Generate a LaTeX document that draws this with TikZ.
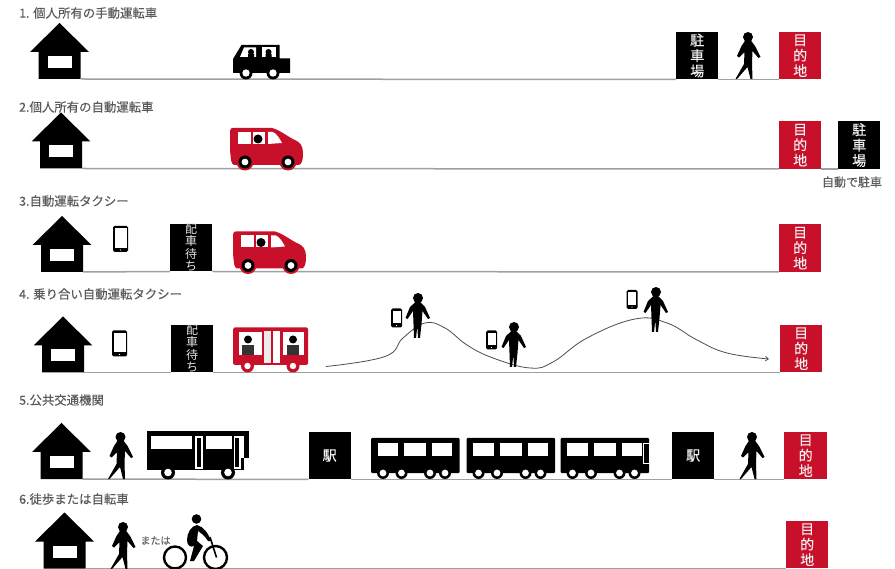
\documentclass[tikz,border=0pt]{standalone}
\usepackage{fontspec}
\usetikzlibrary{arrows.meta}
\setmainfont{Noto Sans CJK JP}
\newfontfamily\heavyfont[FakeBold=0.3]{Noto Sans CJK JP}
\definecolor{dred}{HTML}{C8102A}
\definecolor{road}{HTML}{A0A0A0}
\definecolor{ttl}{HTML}{5A5A5A}
\tikzset{
  x=1pt,y=-1pt,
  roadline/.style={draw=road,line width=1.5pt},
  title/.style={anchor=west,inner sep=0pt,text=ttl,font=\heavyfont\fontsize{12.4}{14}\selectfont},
  signbox/.style={anchor=south west,minimum width=42pt,minimum height=47.5pt,inner sep=0pt,align=center,text=white!88!gray,font=\heavyfont\fontsize{14}{15.4}\selectfont},
  dest/.style={signbox,fill=dred},
  blackbox/.style={signbox,fill=black},
  wait/.style={signbox,fill=black,font=\fontsize{12}{12.4}\selectfont,text=white!78!gray},
}
\newcommand{\xhouse}[3]{%
  \fill (#2,#3-56) -- (#2+29.5,#3-27) -- (#2+21,#3-27) -- (#2+21,#3) -- (#2-21,#3) -- (#2-21,#3-27) -- (#2-29.5,#3-27) -- cycle;
  \fill[white] (#2-12,#3-23) rectangle (#2+12,#3-11);
  \coordinate (#1) at (#2+21,#3);}
\newcommand{\xwalker}[2]{\begin{scope}[shift={(#1,#2)}]
  \fill (0,-42) circle[radius=5pt];
  \fill (-2.5,-39) -- (2.5,-39) -- (7,-33) -- (12.5,-22) -- (10.5,-21) -- (4.5,-28) -- (4,-16) -- (4.5,0) -- (2.5,0) -- (-0.5,-12) -- (-11,0) -- (-12.5,0) -- (-4,-15) -- (-3.5,-27) -- (-9,-21.5) -- (-11,-23) -- (-6.5,-33) -- cycle;
\end{scope}}
\newcommand{\xstander}[2]{\begin{scope}[shift={(#1,#2)}]
  \fill (1,-40) circle[radius=5pt];
  \fill (-1.5,-36) -- (3,-36) -- (8,-31) -- (13,-20) -- (11,-19) -- (5.5,-27) -- (4.5,-14) -- (3,0) -- (1,0) -- (0.5,-9) -- (0,-9) -- (-1,0) -- (-3,0) -- (-3.5,-14) -- (-4,-27) -- (-9.5,-19) -- (-11.5,-20) -- (-7,-31) -- cycle;
\end{scope}}
\newcommand{\xphone}[4]{%
  \fill[black,rounded corners=1.5pt] (#1-#3/2,#2-#4/2) rectangle (#1+#3/2,#2+#4/2);
  \fill[white] (#1-#3/2+1.5,#2-#4/2+2.2) rectangle (#1+#3/2-1.5,#2+#4/2-4);
  \fill[white] (#1,#2+#4/2-2) circle[radius=.7pt];}
\newcommand{\xvan}[2]{\begin{scope}[shift={(#1,#2)}]
  \fill[dred] (-77,-40) -- (-38,-40) .. controls (-30,-38) and (-22,-31) .. (-15,-28) .. controls (-10,-26) and (-7,-22) .. (-7,-15) .. controls (-7,-8) and (-8,-4) .. (-11,-3) -- (-76,-3) .. controls (-79,-4) and (-79,-8) .. (-80,-18) -- (-80,-32) .. controls (-80,-38) and (-80,-40) .. (-77,-40) -- cycle;
  \fill[white] (-72,-36) rectangle (-59,-24);
  \fill[white] (-57,-36) rectangle (-45,-24);
  \fill[white] (-42,-36) -- (-37,-36) .. controls (-33,-34) and (-30,-29) .. (-28,-25) -- (-42,-24) -- cycle;
  \fill (-52,-29) circle[radius=4.5pt];
  \foreach \wx in {-65,-22}{
    \fill[dred] (\wx,-6) circle[radius=8.5pt];
    \fill (\wx,-6) circle[radius=6.5pt];
    \fill[white] (\wx,-6) circle[radius=3.4pt];}
\end{scope}}
\begin{document}
\begin{tikzpicture}
\useasboundingbox (0,0) rectangle (895,569);
% titles
\node[title] (t1) at (19,13) {1. 個人所有の手動運転車};
\node[title] (t2) at (19,107) {2.個人所有の自動運転車};
\node[title] (t3) at (19,201) {3.自動運転タクシー};
\node[title] (t4) at (19,294) {4. 乗り合い自動運転タクシー};
\node[title] (t5) at (19,400) {5.公共交通機関};
\node[title] (t6) at (19,499) {6.徒歩または自転車};
% houses
\xhouse{h1}{59.5}{79}
\xhouse{h2}{61}{168.5}
\xhouse{h3}{62}{272}
\xhouse{h4}{63}{372.5}
\xhouse{h5}{61.5}{479}
\xhouse{h6}{64.5}{568.5}
% roads
\coordinate (end1) at (779,79.5);
% sign boxes
\node[dest] (d1) at (779,79.5) {目\\的\\地};
\node[blackbox] (p1) at (676,79.5) {駐\\車\\場};
\node[dest] (d2) at (779,169) {目\\的\\地};
\node[blackbox] (p2) at (838,169) {駐\\車\\場};
\node[dest] (d3) at (779,272) {目\\的\\地};
\node[dest] (d4) at (780,372.5) {目\\的\\地};
\node[dest,minimum width=43pt] (d5) at (784,479.5) {目\\的\\地};
\node[dest] (d6) at (786,568.5) {目\\的\\地};
\node[wait] (w3) at (170,271.5) {配\\車\\待\\ち};
\node[wait] (w4) at (171,372.5) {配\\車\\待\\ち};
\node[blackbox] (s1) at (308.5,479.5) {駅};
\node[blackbox] (s2) at (672,479.5) {駅};
\draw[roadline] (h1) -- (p1.south west);
\draw[roadline] (p1.south east) -- (d1.south west);
\draw[roadline] (h2) -- (d2.south west);
\draw[roadline] (d2.south east) -- (p2.south west);
\draw[roadline] (h3) -- (w3.south west);
\draw[roadline] (w3.south east) -- (d3.south west);
\draw[roadline] (h4) -- (w4.south west);
\draw[roadline] (w4.south east) -- (d4.south west);
\draw[roadline] (h5) -- (s1.south west);
\draw[roadline] (s1.south east) -- (s2.south west);
\draw[roadline] (s2.south east) -- (d5.south west);
\draw[roadline] (h6) -- (d6.south west);
\node[inner sep=0pt,text=ttl,font=\heavyfont\fontsize{12}{14}\selectfont] (auto) at (852,182) {自動で駐車};
% black car, row 1
\fill (241.5,45) -- (279.5,45) -- (279.5,58.5) -- (290,58.5) -- (290,73) -- (233,73) -- (233,59) -- cycle;
\fill[white] (244,47.5) -- (256,47.5) -- (256,57) -- (240,57) -- cycle;
\fill[white] (262,47.5) -- (276,47.5) -- (276,57) -- (262,57) -- cycle;
\fill (251,52) circle[radius=3pt] (268.5,52) circle[radius=3pt];
\fill (248,57) rectangle (254,54) (265.5,57) rectangle (271.5,54);
\foreach \wx in {246,273}{\fill (\wx,73) circle[radius=6.5pt];\fill[white] (\wx,73) circle[radius=3.7pt];}
% vans
\xvan{310}{168}
\xvan{313}{271.5}
% phones row 3, 4
\xphone{120.5}{239}{15}{26}
\xphone{119.5}{343.5}{15}{26}
% red bus
\fill[dred,rounded corners=1.5pt] (233,327.5) rectangle (308,365);
\fill[white] (238.5,332) rectangle (262,355);
\fill[white] (283,332) rectangle (304,355);
\fill[white!85!gray] (263.5,331.5) rectangle (270.5,363);
\fill[white] (273,331.5) rectangle (280,363);
\foreach \px in {248,293}{
  \fill (\px,339.5) circle[radius=4pt];
  \fill[black!80] (\px-6,345) rectangle (\px+6,355);}
\foreach \wx in {247.5,293}{\fill[dred] (\wx,366) circle[radius=6.5pt];\fill[white] (\wx,366) circle[radius=3.2pt];}
% curve
\coordinate (cs) at (326,366.5);
\coordinate (ce) at (769,359);
\draw[black!70,line width=.8pt,-{Straight Barb[length=3pt,width=4.5pt]}] plot[smooth,tension=.7] coordinates {(cs) (385,356.5) (403,338) (425,323) (445,328) (467,345) (493,358) (530,368) (553,362) (587,338) (635,319) (667,323) (697,340) (727,353) (ce)};
\xstander{417}{338}
\xstander{513}{367}
\xstander{655}{332}
\xphone{396.5}{318}{11}{19}
\xphone{491.5}{340}{11}{19}
\xphone{632}{299.5}{11}{19}
% walkers
\xwalker{748}{79}
\xwalker{120.5}{479}
\xwalker{752}{479}
\xwalker{123}{569}
% black bus
\fill (147,431) rectangle (249,470);
\fill[white] (151,436) rectangle (192,449);
\fill[white] (206,436) rectangle (232,449);
\draw[white,line width=1.1pt] (196,437) rectangle (202,468);
\draw[white,line width=1.1pt] (234.5,437) rectangle (240,468);
\fill[white] (240.5,436) rectangle (244,458);
\fill[white] (244,458) rectangle (249.5,470);
\foreach \wx in {168,228}{\fill (\wx,472.5) circle[radius=7pt];\fill[white] (\wx,472.5) circle[radius=3.8pt];}
% train
\foreach \tx in {371,466.5,560.5}{
  \fill[rounded corners=1pt] (\tx,438) rectangle (\tx+88.5,473);
  \fill[white] (\tx+6.5,443.5) rectangle (\tx+27,456);
  \fill[white] (\tx+33,443.5) rectangle (\tx+55,456);
  \fill[white] (\tx+61,443.5) rectangle (\tx+81,456);
  \foreach \wx in {12,30.5,59,74}{\fill (\tx+\wx,473) circle[radius=6pt];\fill[white] (\tx+\wx,473) circle[radius=3.4pt];}
}
\draw[white,line width=.7pt] (643.5,443.5) rectangle (649,463);
% または and bicycle
\node[inner sep=0pt,text=black!60,font=\heavyfont\fontsize{10}{11}\selectfont] (or) at (155.5,540.5) {または};
\draw[line width=2.4pt] (175,557.5) circle[radius=11pt];
\draw[line width=2.4pt] (215.5,557.5) circle[radius=11.5pt];
\draw[line width=1.6pt] (210,537) -- (216.5,557.5);
\fill (196.5,519) circle[radius=4.8pt];
\fill (197,525) .. controls (204,527) and (208,533) .. (211,541) -- (208,541) .. controls (205,536) and (201,533) .. (198,531) -- (197,541) -- (203,546) -- (194,561) -- (190,561) -- (194,546) .. controls (190,548) and (187,545) .. (187,540) .. controls (187,533) and (191,526) .. (197,525) -- cycle;
\end{tikzpicture}
\end{document}
